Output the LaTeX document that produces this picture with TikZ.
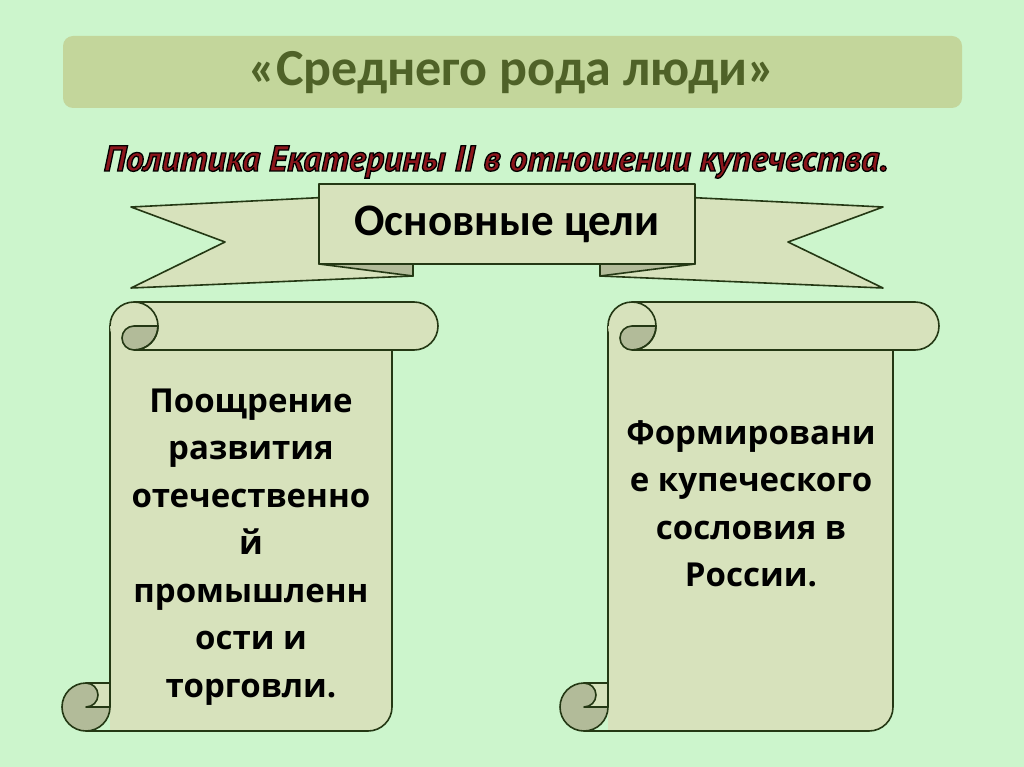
\documentclass[tikz,border=0pt]{standalone}
\usepackage{fontspec}
\setmainfont{Carlito}
\newfontfamily\scrollfont{Open Sans}
\newfontfamily\policyfont{PT Sans}
\definecolor{pagebg}{RGB}{204,245,204}
\definecolor{titlefill}{RGB}{195,214,155}
\definecolor{titletext}{RGB}{79,98,40}
\definecolor{paper}{RGB}{215,226,188}
\definecolor{paperdark}{RGB}{178,187,153}
\definecolor{edge}{RGB}{36,56,20}
\definecolor{subred}{RGB}{140,22,28}
\tikzset{
	edgeline/.style={draw=edge, line width=1.6pt, line join=round},
	rollpart/.style={fill=paperdark, draw=edge, line width=1.6pt, line join=round},
	scrolltext/.style={align=center, font=\scrollfont\bfseries\fontsize{33}{47.5}\selectfont},
}
% outlined text: black stroke round the filled glyphs
\def\rimtext#1{\special{pdf:literal direct 0 0 0 RG 1.3 w 2 Tr}#1\special{pdf:literal direct 0 Tr}}
% one scroll: #1 = left edge of the sheet, #2 = right edge of the sheet
\def\drawscroll#1#2{%
	\fill[paper] (#1,326) -- (#1,731) -- ({#2-24},731) arc[start angle=90, end angle=0, radius=24] -- (#2,326) -- cycle;
	\filldraw[rollpart] ({#1-24},707) circle[radius=24];
	\fill[paper] ({#1-24},683) -- (#1,683) -- (#1,707) -- ({#1-24},707) arc[start angle=90, end angle=-90, radius=12] -- cycle;
	\draw[edgeline] (#1,683) -- ({#1-24},683) arc[start angle=-90, end angle=90, radius=12] -- (#1,707);
	\draw[edgeline] (#1,326) -- (#1,707);
	\draw[edgeline] (#2,350) -- (#2,707) arc[start angle=0, end angle=90, radius=24] -- ({#1-24},731);
	\fill[paper] ({#1+24},302) -- ({#2+22},302) arc[start angle=-90, end angle=90, radius=24] -- ({#1+24},350) -- cycle;
	\draw[edgeline] ({#1+24},350) -- ({#2+22},350) arc[start angle=90, end angle=-90, radius=24] -- ({#1+24},302);
	\fill[paper] ({#1+24},326) circle[radius=24];
	\filldraw[rollpart] ({#1+48},326) arc[start angle=0, end angle=90, radius=24] arc[start angle=90, end angle=270, radius=12] -- cycle;
	\draw[edgeline] (#1,326) arc[start angle=180, end angle=450, radius=24];
}

\begin{document}
\begin{tikzpicture}[x=1pt, y=-1pt]
	\fill[pagebg] (0,0) rectangle (1024,767);
	\useasboundingbox (0,0) rectangle (1024,767);
	
	% title bar
	\fill[titlefill, rounded corners=10pt] (63,36) rectangle (962,108);
	\node[titletext, font=\bfseries\fontsize{52}{56}\selectfont] (title) at (512,73) {«Среднего рода люди»};
	
	% subtitle
	\node[subred, font=\policyfont\bfseries\itshape\fontsize{36}{40}\selectfont] (policy) at (496,162) {\rimtext{Политика Екатерины II в отношении купечества.}};
	
	% ribbon
	\filldraw[fill=paper, edgeline] (131,207) -- (413,193) -- (413,276) -- (131,288) -- (225,242) -- cycle;
	\filldraw[fill=paper, edgeline] (883,207) -- (600,193) -- (600,276) -- (883,288) -- (788,242) -- cycle;
	\filldraw[rollpart] (319,264) -- (413,264) -- (413,276) -- cycle;
	\filldraw[rollpart] (695,264) -- (600,264) -- (600,276) -- cycle;
	\filldraw[fill=paper, edgeline] (319,184) rectangle (695,264);
	\node[font=\bfseries\fontsize{45}{48}\selectfont] (goals) at (507,224) {Основные цели};
	
	% scrolls
	\drawscroll{110}{392}
	\drawscroll{608}{893}
	
	\node[scrolltext] (industry) at (251,547) {Поощрение\\развития\\отечественно\\й\\промышленн\\ости и\\торговли.};
	\node[scrolltext] (estate) at (751,504) {Формировани\\е купеческого\\сословия в\\России.};
\end{tikzpicture}
\end{document}
